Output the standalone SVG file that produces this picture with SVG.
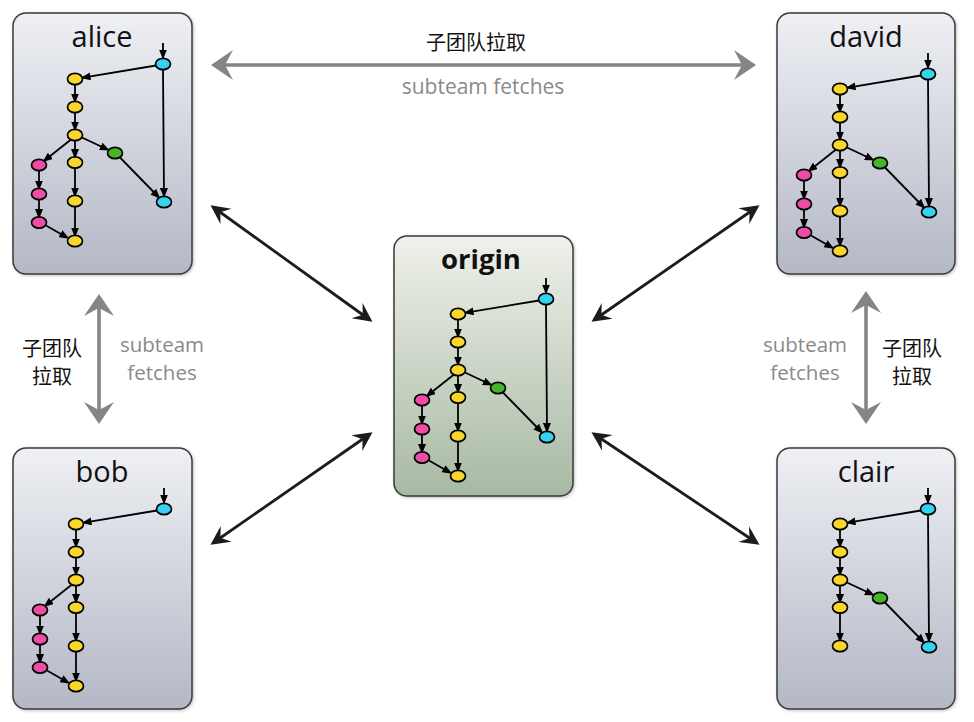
<svg xmlns="http://www.w3.org/2000/svg" xmlns:xlink="http://www.w3.org/1999/xlink" width="974" height="722" viewBox="0 0 974 722">
<style>
.box{stroke:#3a3a3a;stroke-width:1.5}
.title{font-family:"Open Sans","Liberation Sans",sans-serif;font-size:29px;fill:#111;text-anchor:middle}
.otitle{font-family:"Open Sans","Liberation Sans",sans-serif;font-size:27.5px;font-weight:bold;fill:#111;text-anchor:middle}
.e{stroke:#000;stroke-width:1.8;fill:none;marker-end:url(#ah)}
.c{stroke:#000;stroke-width:1.7}
.y{fill:#f9d62c}.p{fill:#ee4da6}.g{fill:#47b52a}.b{fill:#36d3f0}
.cn{font-family:"Noto Sans CJK SC",sans-serif;font-size:20px;fill:#111;text-anchor:middle}
.en{font-family:"Open Sans","Liberation Sans",sans-serif;font-size:20.5px;fill:#8a8a8a;text-anchor:middle}
.blk{stroke:#1c1c1c;stroke-width:2.8;fill:none;marker-start:url(#bh);marker-end:url(#bh)}
.gry{stroke:#858585;stroke-width:3.6;fill:none;marker-start:url(#gh);marker-end:url(#gh)}
</style>
<defs>
<linearGradient id="gb" x1="0" y1="0" x2="0" y2="1">
<stop offset="0" stop-color="#eef0f4"/><stop offset="1" stop-color="#b4b8c5"/>
</linearGradient>
<linearGradient id="gg" x1="0" y1="0" x2="0" y2="1">
<stop offset="0" stop-color="#eff1ea"/><stop offset="1" stop-color="#a7b9a3"/>
</linearGradient>
<filter id="sh" x="-10%" y="-10%" width="120%" height="120%">
<feDropShadow dx="1" dy="1" stdDeviation="1.5" flood-color="#000" flood-opacity="0.25"/>
</filter>
<marker id="ah" markerUnits="userSpaceOnUse" viewBox="0 0 10 8" markerWidth="10" markerHeight="8" refX="7.5" refY="4" orient="auto">
<path d="M0,0 L10,4 L0,8 Z" fill="#000"/>
</marker>
<marker id="bh" markerUnits="userSpaceOnUse" viewBox="-20 -11 24 22" markerWidth="24" markerHeight="22" refX="0" refY="0" orient="auto-start-reverse">
<path d="M3,0 L-16,-9.5 L-9,0 L-16,9.5 Z" fill="#1c1c1c"/>
</marker>
<marker id="gh" markerUnits="userSpaceOnUse" viewBox="-24 -17 28 34" markerWidth="28" markerHeight="34" refX="0" refY="0" orient="auto-start-reverse">
<path d="M3,0 L-19,-15 L-11,0 L-19,15 Z" fill="#858585"/>
</marker>
</defs>
<rect width="974" height="722" fill="#fff"/>

<g id="connectors">
<line class="blk" x1="213" y1="207" x2="370" y2="320"/>
<line class="blk" x1="213" y1="543" x2="370" y2="434"/>
<line class="blk" x1="757" y1="207" x2="594" y2="320"/>
<line class="blk" x1="757" y1="543" x2="594" y2="434"/>
<line class="gry" x1="214" y1="65" x2="753" y2="65"/>
<line class="gry" x1="99" y1="297" x2="99" y2="421"/>
<line class="gry" x1="866" y1="294" x2="866" y2="421"/>
</g>

<g id="labels">
<text class="cn" x="476" y="50">子团队拉取</text>
<text class="en" x="483" y="94" style="font-size:21px">subteam fetches</text>
<text class="cn" x="52" y="356">子团队</text>
<text class="cn" x="52" y="384">拉取</text>
<text class="en" x="162" y="352">subteam</text>
<text class="en" x="162" y="380">fetches</text>
<text class="en" x="805" y="352">subteam</text>
<text class="en" x="805" y="380">fetches</text>
<text class="cn" x="912" y="356">子团队</text>
<text class="cn" x="912" y="384">拉取</text>
</g>

<g id="alice">
<rect class="box" x="13" y="13" width="179" height="261" rx="13" fill="url(#gb)" filter="url(#sh)"/>
<text class="title" x="102" y="47">alice</text>
<g transform="translate(163,64)">
<path class="e" d="M0,-21 V-7"/>
<path class="e" d="M-7,1.5 L-80,13.6"/>
<path class="e" d="M0,5.5 L1,131.5"/>
<path class="e" d="M-88,20.5 V37"/>
<path class="e" d="M-88,48.5 V65"/>
<path class="e" d="M-88,76.5 V92.5"/>
<path class="e" d="M-88,104 V131"/>
<path class="e" d="M-88,142.5 V171"/>
<path class="e" d="M-92,75.5 L-118.5,96.5"/>
<path class="e" d="M-124,106.5 V124"/>
<path class="e" d="M-124,135.5 V152.5"/>
<path class="e" d="M-117,161.5 L-96,173.5"/>
<path class="e" d="M-81,73.5 L-55.5,85.5"/>
<path class="e" d="M-43,93.5 L-4.5,133"/>
<ellipse class="c b" cx="0" cy="0" rx="7.5" ry="5.7"/>
<ellipse class="c y" cx="-88" cy="15" rx="7.5" ry="5.7"/>
<ellipse class="c y" cx="-88" cy="43" rx="7.5" ry="5.7"/>
<ellipse class="c y" cx="-88" cy="71" rx="7.5" ry="5.7"/>
<ellipse class="c y" cx="-88" cy="98.5" rx="7.5" ry="5.7"/>
<ellipse class="c y" cx="-88" cy="137" rx="7.5" ry="5.7"/>
<ellipse class="c y" cx="-88" cy="177" rx="7.5" ry="5.7"/>
<ellipse class="c p" cx="-124" cy="101" rx="7.5" ry="5.7"/>
<ellipse class="c p" cx="-124" cy="130" rx="7.5" ry="5.7"/>
<ellipse class="c p" cx="-124" cy="158.5" rx="7.5" ry="5.7"/>
<ellipse class="c g" cx="-48" cy="89" rx="7.5" ry="5.7"/>
<ellipse class="c b" cx="1" cy="138" rx="7.5" ry="5.7"/>
</g>
</g>

<g id="origin">
<rect class="box" x="394" y="236" width="179" height="260" rx="13" fill="url(#gg)" filter="url(#sh)"/>
<text class="otitle" x="481" y="268.5">origin</text>
<g transform="translate(546,299)">
<path class="e" d="M0,-21 V-7"/>
<path class="e" d="M-7,1.5 L-80,13.6"/>
<path class="e" d="M0,5.5 L1,131.5"/>
<path class="e" d="M-88,20.5 V37"/>
<path class="e" d="M-88,48.5 V65"/>
<path class="e" d="M-88,76.5 V92.5"/>
<path class="e" d="M-88,104 V131"/>
<path class="e" d="M-88,142.5 V171"/>
<path class="e" d="M-92,75.5 L-118.5,96.5"/>
<path class="e" d="M-124,106.5 V124"/>
<path class="e" d="M-124,135.5 V152.5"/>
<path class="e" d="M-117,161.5 L-96,173.5"/>
<path class="e" d="M-81,73.5 L-55.5,85.5"/>
<path class="e" d="M-43,93.5 L-4.5,133"/>
<ellipse class="c b" cx="0" cy="0" rx="7.5" ry="5.7"/>
<ellipse class="c y" cx="-88" cy="15" rx="7.5" ry="5.7"/>
<ellipse class="c y" cx="-88" cy="43" rx="7.5" ry="5.7"/>
<ellipse class="c y" cx="-88" cy="71" rx="7.5" ry="5.7"/>
<ellipse class="c y" cx="-88" cy="98.5" rx="7.5" ry="5.7"/>
<ellipse class="c y" cx="-88" cy="137" rx="7.5" ry="5.7"/>
<ellipse class="c y" cx="-88" cy="177" rx="7.5" ry="5.7"/>
<ellipse class="c p" cx="-124" cy="101" rx="7.5" ry="5.7"/>
<ellipse class="c p" cx="-124" cy="130" rx="7.5" ry="5.7"/>
<ellipse class="c p" cx="-124" cy="158.5" rx="7.5" ry="5.7"/>
<ellipse class="c g" cx="-48" cy="89" rx="7.5" ry="5.7"/>
<ellipse class="c b" cx="1" cy="138" rx="7.5" ry="5.7"/>
</g>
</g>

<g id="david">
<rect class="box" x="777" y="13" width="178" height="261" rx="13" fill="url(#gb)" filter="url(#sh)"/>
<text class="title" x="866" y="47">david</text>
<g transform="translate(928,74)">
<path class="e" d="M0,-21 V-7"/>
<path class="e" d="M-7,1.5 L-80,13.6"/>
<path class="e" d="M0,5.5 L1,131.5"/>
<path class="e" d="M-88,20.5 V37"/>
<path class="e" d="M-88,48.5 V65"/>
<path class="e" d="M-88,76.5 V92.5"/>
<path class="e" d="M-88,104 V131"/>
<path class="e" d="M-88,142.5 V171"/>
<path class="e" d="M-92,75.5 L-118.5,96.5"/>
<path class="e" d="M-124,106.5 V124"/>
<path class="e" d="M-124,135.5 V152.5"/>
<path class="e" d="M-117,161.5 L-96,173.5"/>
<path class="e" d="M-81,73.5 L-55.5,85.5"/>
<path class="e" d="M-43,93.5 L-4.5,133"/>
<ellipse class="c b" cx="0" cy="0" rx="7.5" ry="5.7"/>
<ellipse class="c y" cx="-88" cy="15" rx="7.5" ry="5.7"/>
<ellipse class="c y" cx="-88" cy="43" rx="7.5" ry="5.7"/>
<ellipse class="c y" cx="-88" cy="71" rx="7.5" ry="5.7"/>
<ellipse class="c y" cx="-88" cy="98.5" rx="7.5" ry="5.7"/>
<ellipse class="c y" cx="-88" cy="137" rx="7.5" ry="5.7"/>
<ellipse class="c y" cx="-88" cy="177" rx="7.5" ry="5.7"/>
<ellipse class="c p" cx="-124" cy="101" rx="7.5" ry="5.7"/>
<ellipse class="c p" cx="-124" cy="130" rx="7.5" ry="5.7"/>
<ellipse class="c p" cx="-124" cy="158.5" rx="7.5" ry="5.7"/>
<ellipse class="c g" cx="-48" cy="89" rx="7.5" ry="5.7"/>
<ellipse class="c b" cx="1" cy="138" rx="7.5" ry="5.7"/>
</g>
</g>

<g id="bob">
<rect class="box" x="13" y="448" width="179" height="261" rx="13" fill="url(#gb)" filter="url(#sh)"/>
<text class="title" x="102" y="481.5">bob</text>
<g transform="translate(164,509)">
<path class="e" d="M0,-21 V-7"/>
<path class="e" d="M-7,1.5 L-80,13.6"/>
<path class="e" d="M-88,20.5 V37"/>
<path class="e" d="M-88,48.5 V65"/>
<path class="e" d="M-88,76.5 V92.5"/>
<path class="e" d="M-88,104 V131"/>
<path class="e" d="M-88,142.5 V171"/>
<path class="e" d="M-92,75.5 L-118.5,96.5"/>
<path class="e" d="M-124,106.5 V124"/>
<path class="e" d="M-124,135.5 V152.5"/>
<path class="e" d="M-117,161.5 L-96,173.5"/>
<ellipse class="c b" cx="0" cy="0" rx="7.5" ry="5.7"/>
<ellipse class="c y" cx="-88" cy="15" rx="7.5" ry="5.7"/>
<ellipse class="c y" cx="-88" cy="43" rx="7.5" ry="5.7"/>
<ellipse class="c y" cx="-88" cy="71" rx="7.5" ry="5.7"/>
<ellipse class="c y" cx="-88" cy="98.5" rx="7.5" ry="5.7"/>
<ellipse class="c y" cx="-88" cy="137" rx="7.5" ry="5.7"/>
<ellipse class="c y" cx="-88" cy="177" rx="7.5" ry="5.7"/>
<ellipse class="c p" cx="-124" cy="101" rx="7.5" ry="5.7"/>
<ellipse class="c p" cx="-124" cy="130" rx="7.5" ry="5.7"/>
<ellipse class="c p" cx="-124" cy="158.5" rx="7.5" ry="5.7"/>
</g>
</g>

<g id="clair">
<rect class="box" x="777" y="448" width="178" height="261" rx="13" fill="url(#gb)" filter="url(#sh)"/>
<text class="title" x="866" y="481.5">clair</text>
<g transform="translate(928,509)">
<path class="e" d="M0,-21 V-7"/>
<path class="e" d="M-7,1.5 L-80,13.6"/>
<path class="e" d="M0,5.5 L1,131.5"/>
<path class="e" d="M-88,20.5 V37"/>
<path class="e" d="M-88,48.5 V65"/>
<path class="e" d="M-88,76.5 V92.5"/>
<path class="e" d="M-88,104 V131"/>
<path class="e" d="M-81,73.5 L-55.5,85.5"/>
<path class="e" d="M-43,93.5 L-4.5,133"/>
<ellipse class="c b" cx="0" cy="0" rx="7.5" ry="5.7"/>
<ellipse class="c y" cx="-88" cy="15" rx="7.5" ry="5.7"/>
<ellipse class="c y" cx="-88" cy="43" rx="7.5" ry="5.7"/>
<ellipse class="c y" cx="-88" cy="71" rx="7.5" ry="5.7"/>
<ellipse class="c y" cx="-88" cy="98.5" rx="7.5" ry="5.7"/>
<ellipse class="c y" cx="-88" cy="137" rx="7.5" ry="5.7"/>
<ellipse class="c g" cx="-48" cy="89" rx="7.5" ry="5.7"/>
<ellipse class="c b" cx="1" cy="138" rx="7.5" ry="5.7"/>
</g>
</g>
</svg>
